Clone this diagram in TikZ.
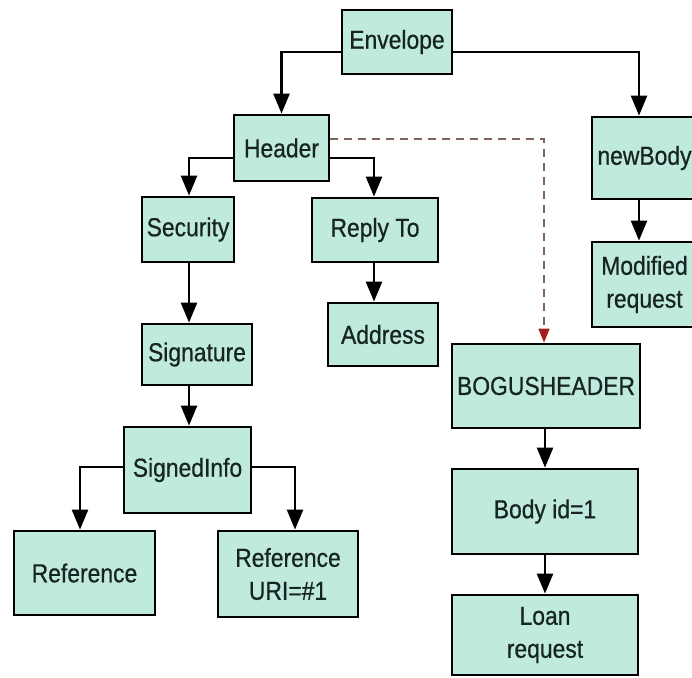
\documentclass[tikz,border=0pt]{standalone}
\usepackage{fontspec}
\setmainfont{Liberation Sans}[FakeStretch=0.88,FakeBold=0.6]
\usetikzlibrary{arrows.meta}
\definecolor{boxfill}{RGB}{192,234,222}
\definecolor{boxtext}{RGB}{22,36,34}
\definecolor{dashline}{RGB}{128,100,90}
\definecolor{dashhead}{RGB}{165,30,30}
\tikzset{
  elem/.style={draw=black, line width=2.8pt, fill=boxfill, text=boxtext,
    inner sep=0pt, align=center, font=\fontsize{26}{33}\selectfont},
  link/.style={line width=2.4pt, -{Triangle[length=20pt,width=16pt]}},
  bogus/.style={draw=dashline, line width=1.6pt, dash pattern=on 8pt off 6pt,
    -{Triangle[length=14pt,width=11pt,color=dashhead]}}
}
\begin{document}
\begin{tikzpicture}[x=1pt,y=-1pt]
\useasboundingbox (0,0) rectangle (692,677);
\clip (0,0) rectangle (692,677);

% message elements
\node[elem, minimum width=110pt, minimum height=64pt] (env)  at (397,42)    {Envelope};
\node[elem, minimum width=95pt,  minimum height=66pt] (hdr)  at (281.5,148) {Header};
\node[elem, minimum width=105pt, minimum height=82pt] (nb)   at (644.5,158) {newBody};
\node[elem, minimum width=105pt, minimum height=85pt] (mod)  at (644.5,284.5) {Modified\\request};
\node[elem, minimum width=92pt,  minimum height=65pt] (sec)  at (188,229.5) {Security};
\node[elem, minimum width=126pt, minimum height=64pt] (rep)  at (375,230)   {Reply To};
\node[elem, minimum width=110pt, minimum height=63pt] (adr)  at (383,334.5) {Address};
\node[elem, minimum width=110pt, minimum height=61pt] (sig)  at (197,354.5) {Signature};
\node[elem, minimum width=127pt, minimum height=86pt] (si)   at (187.5,470) {SignedInfo};
\node[elem, minimum width=141pt, minimum height=84pt] (ref)  at (84.5,573)  {Reference};
\node[elem, minimum width=140pt, minimum height=86pt] (ruri) at (288,574)   {Reference\\URI=\#1};
\node[elem, minimum width=188pt, minimum height=84pt] (bog)  at (546,386)   {BOGUSHEADER};
\node[elem, minimum width=186pt, minimum height=85pt] (bid)  at (545,511.5) {Body id=1};
\node[elem, minimum width=186pt, minimum height=80pt] (loan) at (545,635)   {Loan\\request};

% tree connectors
\draw[link] ([yshift=-10pt]env.west) -| (hdr.north);
\draw[link] ([yshift=-10pt]env.east) -| ([xshift=-5.5pt]nb.north);
\draw[link] ([xshift=-5.5pt]nb.south) -- ([xshift=-5.5pt]mod.north);
\draw[link] ([yshift=-10pt]hdr.west) -| ([xshift=1pt]sec.north);
\draw[link] ([yshift=-10pt]hdr.east) -| ([xshift=-1pt]rep.north);
\draw[link] ([xshift=-1pt]rep.south) -- ([xshift=-1pt]rep.south |- adr.north);
\draw[link] ([xshift=1pt]sec.south) -- ([xshift=1pt]sec.south |- sig.north);
\draw[link] ([xshift=-8pt]sig.south) -- ([xshift=-8pt]sig.south |- si.north);
\draw[link] ([yshift=3pt]si.west) -| ([xshift=-4.5pt]ref.north);
\draw[link] ([yshift=3pt]si.east) -| ([xshift=7pt]ruri.north);
\draw[link] ([xshift=-1pt]bog.south) -- (bid.north);
\draw[link] (bid.south) -- (loan.north);

% injected header reference
\draw[bogus] ([yshift=9pt]hdr.east) -| ([xshift=-2pt]bog.north);
\end{tikzpicture}
\end{document}
